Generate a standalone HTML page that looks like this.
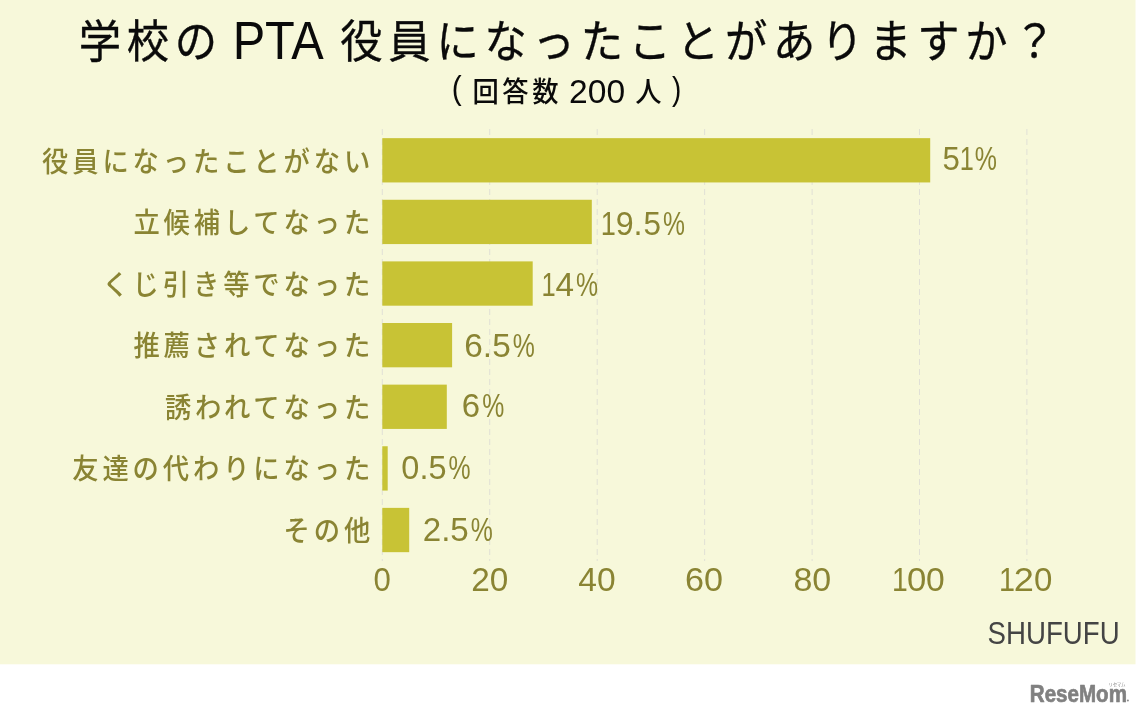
<!DOCTYPE html>
<html lang="ja">
<head>
<meta charset="utf-8">
<title>学校のPTA役員になったことがありますか？</title>
<style>
html,body{margin:0;padding:0;background:#fff;}
body{width:1141px;height:716px;overflow:hidden;font-family:"Liberation Sans", "Noto Sans CJK JP", sans-serif;}
svg{display:block;}
text{font-family:"Liberation Sans", "Noto Sans CJK JP", sans-serif;}
.title{font-size:45.5px;font-weight:400;fill:#0a0a0a;stroke:#0a0a0a;stroke-width:0.35px;letter-spacing:6.22px;}
.title .lat{font-size:52.8px;font-weight:400;letter-spacing:0;stroke:none;}
.sub{font-size:28px;font-weight:500;fill:#0a0a0a;letter-spacing:3.81px;}
.sub .lat{font-size:32.6px;font-weight:400;letter-spacing:0;}
.cat{font-size:28px;font-weight:500;fill:#8a8433;letter-spacing:4.13px;text-anchor:end;}
.val,.ax{font-size:33.3px;fill:#8a8433;}
.src{font-size:30.8px;fill:#444444;}
.logo{font-size:24.6px;font-weight:bold;fill:#808080;stroke:#808080;stroke-width:0.7px;stroke-linejoin:round;}
.kana{font-size:4.5px;fill:#909090;}
</style>
</head>
<body>
<svg width="1141" height="716" viewBox="0 0 1141 716">
<rect x="0" y="0" width="1141" height="716" fill="#ffffff"/>
<rect x="0" y="0" width="1135.5" height="664.3" fill="#f7f8da"/>
<g stroke="#e0e0d6" stroke-width="1" stroke-dasharray="6 4" fill="none">
<line x1="382.3" y1="129" x2="382.3" y2="561"/>
<line x1="489.7" y1="129" x2="489.7" y2="561"/>
<line x1="597.2" y1="129" x2="597.2" y2="561"/>
<line x1="704.6" y1="129" x2="704.6" y2="561"/>
<line x1="812.1" y1="129" x2="812.1" y2="561"/>
<line x1="919.5" y1="129" x2="919.5" y2="561"/>
<line x1="1026.9" y1="129" x2="1026.9" y2="561"/>
</g>
<g fill="#c8c335">
<rect x="382.3" y="138.15" width="547.9" height="44.3"/>
<rect x="382.3" y="199.77" width="209.5" height="44.3"/>
<rect x="382.3" y="261.39" width="150.4" height="44.3"/>
<rect x="382.3" y="323.01" width="69.8" height="44.3"/>
<rect x="382.3" y="384.63" width="64.5" height="44.3"/>
<rect x="382.3" y="446.25" width="5.4" height="44.3"/>
<rect x="382.3" y="507.87" width="26.9" height="44.3"/>
</g>
<text class="title" y="57.7" transform="scale(0.93 1)"><tspan x="84.62">学校の </tspan><tspan class="lat" dy="1.4" x="250.17" textLength="97.88" lengthAdjust="spacingAndGlyphs">PTA</tspan><tspan dy="-1.4"> </tspan><tspan x="365.85">役員になったことがありますか？</tspan></text>
<text class="sub" y="102" transform="scale(0.94 1)"><tspan class="lat" dy="-3.0" x="480.69" textLength="10.56" lengthAdjust="spacingAndGlyphs">(</tspan><tspan dy="3.0"> </tspan><tspan x="502.60">回答数 </tspan><tspan class="lat" dy="0.6" x="605.44" textLength="59.57" lengthAdjust="spacingAndGlyphs">200</tspan><tspan dy="-0.6"> </tspan><tspan x="675.68">人 </tspan><tspan class="lat" dy="-2.4" x="714.93" textLength="9.89" lengthAdjust="spacingAndGlyphs">)</tspan></text>
<text class="cat" x="397.98" y="171.6" transform="scale(0.94 1)">役員になったことがない</text>
<text class="val" y="169.7"><tspan x="942.55" textLength="17.36" lengthAdjust="spacingAndGlyphs">5</tspan><tspan x="959.77" textLength="14.06" lengthAdjust="spacingAndGlyphs">1</tspan><tspan x="974.81" textLength="22.18" lengthAdjust="spacingAndGlyphs">%</tspan></text>
<text class="cat" x="397.98" y="233.1" transform="scale(0.94 1)">立候補してなった</text>
<text class="val" y="234.7"><tspan x="600.73" textLength="15.09" lengthAdjust="spacingAndGlyphs">1</tspan><tspan x="615.69" textLength="17.94" lengthAdjust="spacingAndGlyphs">9</tspan><tspan x="633.53" textLength="9.05" lengthAdjust="spacingAndGlyphs">.</tspan><tspan x="643.54" textLength="17.48" lengthAdjust="spacingAndGlyphs">5</tspan><tspan x="663.12" textLength="21.96" lengthAdjust="spacingAndGlyphs">%</tspan></text>
<text class="cat" x="397.98" y="294.6" transform="scale(0.94 1)">くじ引き等でなった</text>
<text class="val" y="296.2"><tspan x="541.56" textLength="14.19" lengthAdjust="spacingAndGlyphs">1</tspan><tspan x="555.53" textLength="18.54" lengthAdjust="spacingAndGlyphs">4</tspan><tspan x="575.92" textLength="22.07" lengthAdjust="spacingAndGlyphs">%</tspan></text>
<text class="cat" x="397.98" y="356.1" transform="scale(0.94 1)">推薦されてなった</text>
<text class="val" y="356.7"><tspan x="464.31" textLength="46.40" lengthAdjust="spacingAndGlyphs">6.5</tspan><tspan x="512.72" textLength="22.07" lengthAdjust="spacingAndGlyphs">%</tspan></text>
<text class="cat" x="397.98" y="417.6" transform="scale(0.94 1)">誘われてなった</text>
<text class="val" y="417.0"><tspan x="461.83" textLength="18.32" lengthAdjust="spacingAndGlyphs">6</tspan><tspan x="482.22" textLength="22.07" lengthAdjust="spacingAndGlyphs">%</tspan></text>
<text class="cat" x="397.98" y="479.1" transform="scale(0.94 1)">友達の代わりになった</text>
<text class="val" y="478.8"><tspan x="401.33" textLength="45.13" lengthAdjust="spacingAndGlyphs">0.5</tspan><tspan x="448.52" textLength="22.07" lengthAdjust="spacingAndGlyphs">%</tspan></text>
<text class="cat" x="397.98" y="540.6" transform="scale(0.94 1)">その他</text>
<text class="val" y="541.2"><tspan x="422.73" textLength="46.06" lengthAdjust="spacingAndGlyphs">2.5</tspan><tspan x="470.82" textLength="22.07" lengthAdjust="spacingAndGlyphs">%</tspan></text>
<text class="ax" y="590.7"><tspan x="373.38" textLength="17.34" lengthAdjust="spacingAndGlyphs">0</tspan></text>
<text class="ax" y="590.7"><tspan x="471.22" textLength="37.08" lengthAdjust="spacingAndGlyphs">20</tspan></text>
<text class="ax" y="590.7"><tspan x="578.23" textLength="37.38" lengthAdjust="spacingAndGlyphs">40</tspan></text>
<text class="ax" y="590.7"><tspan x="684.97" textLength="37.97" lengthAdjust="spacingAndGlyphs">60</tspan></text>
<text class="ax" y="590.7"><tspan x="793.42" textLength="37.80" lengthAdjust="spacingAndGlyphs">80</tspan></text>
<text class="ax" y="590.7"><tspan x="891.94" textLength="15.74" lengthAdjust="spacingAndGlyphs">1</tspan><tspan x="907.04" textLength="19.31" lengthAdjust="spacingAndGlyphs">0</tspan><tspan x="925.98" textLength="18.73" lengthAdjust="spacingAndGlyphs">0</tspan></text>
<text class="ax" y="590.7"><tspan x="998.91" textLength="16.00" lengthAdjust="spacingAndGlyphs">1</tspan><tspan x="1013.88" textLength="20.14" lengthAdjust="spacingAndGlyphs">2</tspan><tspan x="1034.11" textLength="18.38" lengthAdjust="spacingAndGlyphs">0</tspan></text>
<text class="src" y="643.5"><tspan x="987.54" textLength="132.09" lengthAdjust="spacingAndGlyphs">SHUFUFU</tspan></text>
<text class="logo" y="701.8"><tspan x="1029.82" textLength="97.15" lengthAdjust="spacingAndGlyphs">ReseMom</tspan></text>
<text class="kana" x="1108.5" y="686.3" textLength="17">リセマム</text>
<circle cx="1127.9" cy="700.6" r="1" fill="#8a8a8a"/>
</svg>
</body>
</html>
